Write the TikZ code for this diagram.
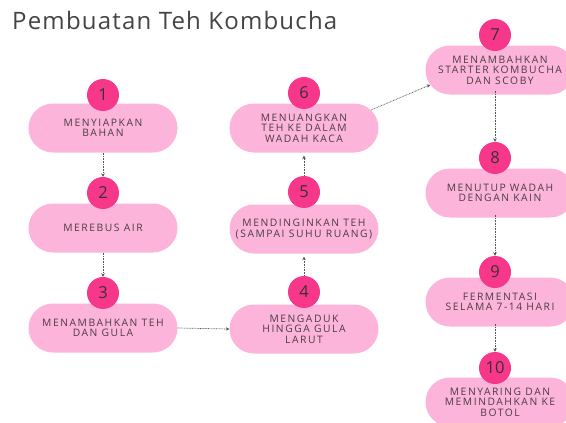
\documentclass[tikz,border=0pt]{standalone}
\usepackage{fontspec}
\setmainfont{Open Sans}
\newfontfamily\lblfont[LetterSpace=15]{Open Sans}
\newfontfamily\titlefont[LetterSpace=5]{Open Sans}
\usetikzlibrary{shapes.misc,arrows.meta}
\definecolor{pillpink}{HTML}{FDB4DA}
\definecolor{hotpink}{HTML}{F7388A}
\definecolor{txtgray}{HTML}{4A3C42}
\definecolor{titlegray}{HTML}{444444}
\definecolor{arrgray}{HTML}{555555}
\tikzset{
  pill/.style={rounded rectangle, fill=pillpink, minimum width=151pt, minimum height=49pt,
    inner sep=1pt, align=center, text=txtgray, font=\lblfont\fontsize{10.3}{10.6}\selectfont},
  numdot/.style={circle, fill=hotpink, minimum size=32pt, inner sep=0pt, text=txtgray!80!black,
    font=\fontsize{16.5}{16.5}\selectfont},
  flow/.style={draw=arrgray, line width=0.7pt, dash pattern=on 0.8pt off 0.8pt,
    -{Stealth[length=3.5pt,width=3.5pt]}}
}
\begin{document}
\begin{tikzpicture}[x=1pt,y=-1pt]
\useasboundingbox (0,0) rectangle (566,423);
\clip (0,0) rectangle (566,423);
\fill[white] (0,0) rectangle (566,423);
\node[anchor=base west, inner sep=0pt, text=titlegray, font=\titlefont\fontsize{24}{26}\selectfont] (title) at (12,30) {Pembuatan Teh Kombucha};
% pills
\node[pill] (p1) at (103,128) {MENYIAPKAN\\BAHAN};
\node[pill] (p2) at (103,228) {MEREBUS AIR};
\node[pill] (p3) at (103,328) {MENAMBAHKAN TEH\\DAN GULA};
\node[pill] (p4) at (304,329) {MENGADUK\\HINGGA GULA\\LARUT};
\node[pill] (p5) at (304,229) {MENDINGINKAN TEH\\(SAMPAI SUHU RUANG)};
\node[pill] (p6) at (304,128) {MENUANGKAN\\TEH KE DALAM\\WADAH KACA};
\node[pill] (p7) at (500,70) {MENAMBAHKAN\\STARTER KOMBUCHA\\DAN SCOBY};
\node[pill] (p8) at (500,193) {MENUTUP WADAH\\DENGAN KAIN};
\node[pill] (p9) at (500,302) {FERMENTASI\\SELAMA 7-14 HARI};
\node[pill] (p10) at (500,402) {MENYARING DAN\\MEMINDAHKAN KE\\BOTOL};
% number circles
\node[numdot] (n1) at (103,95) {1};
\node[numdot] (n2) at (103,193) {2};
\node[numdot] (n3) at (103,293) {3};
\node[numdot] (n4) at (304,292) {4};
\node[numdot] (n5) at (304,192) {5};
\node[numdot] (n6) at (304,93) {6};
\node[numdot] (n7) at (495,35) {7};
\node[numdot] (n8) at (495,158) {8};
\node[numdot] (n9) at (495,272) {9};
\node[numdot] (n10) at (495,368) {10};
% connectors
\draw[flow] (p1.south) -- (n2.north);
\draw[flow] (p2.south) -- (n3.north);
\draw[flow] (p3.east) -- (p4.west);
\draw[flow] (n4.north) -- ([yshift=-3pt]p5.south);
\draw[flow] (n5.north) -- ([yshift=-3pt]p6.south);
\draw[flow] (p6.15) -- (p7.192);
\draw[flow] ([yshift=4pt]p7.south -| n7) -- (n8.north);
\draw[flow] ([yshift=3pt]p8.south -| n8) -- (n9.north);
\draw[flow] ([yshift=3pt]p9.south -| n9) -- (n10.north);
\end{tikzpicture}
\end{document}
